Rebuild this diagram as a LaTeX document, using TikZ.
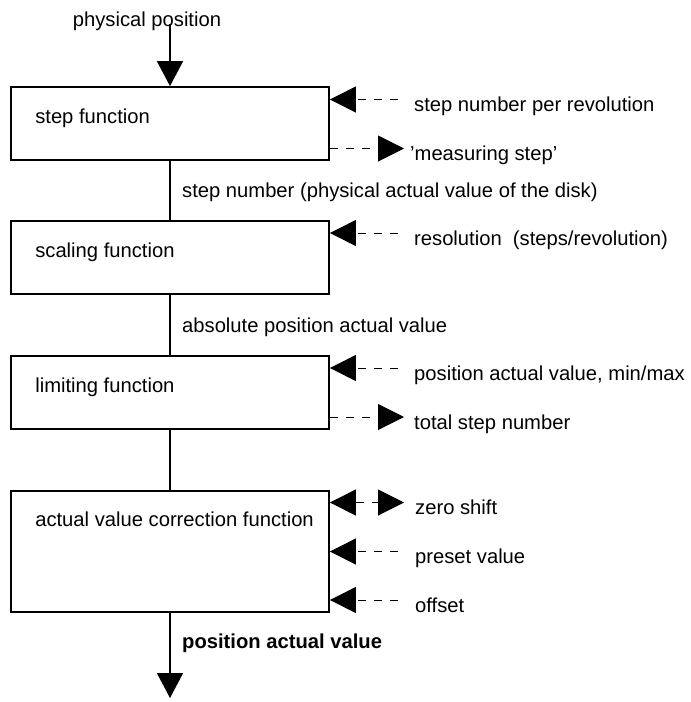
\documentclass[tikz,border=0pt]{standalone}
\usepackage{fontspec}
\setmainfont{Liberation Sans}
\usetikzlibrary{arrows.meta}

\tikzset{
  funcbox/.style={draw, line width=1.8pt, minimum width=318pt, inner sep=0pt},
  boxtext/.style={anchor=base west, inner sep=0pt},
  sigtext/.style={anchor=base west, inner sep=0pt},
  link/.style={line width=1.8pt},
  flow/.style={line width=1.8pt, -{Triangle[length=25pt,width=26pt]}},
  sig/.style={line width=1pt, dash pattern=on 8pt off 8pt, >={Triangle[length=26pt,width=26pt]}}
}

\begin{document}
\begin{tikzpicture}[x=1pt, y=-1pt, font=\fontsize{20.2pt}{24pt}\selectfont]
  \useasboundingbox (0,0) rectangle (691,702);

  % Input
  \node[anchor=base, inner sep=0pt] (phys) at (147,26) {physical position};
  \coordinate (physin) at (170,24);

  % Step function
  \node[funcbox, minimum height=73pt] (stepbox) at (170,123.5) {};
  \node[boxtext] (steptxt) at ([shift={(25pt,-37pt)}]stepbox.north west) {step function};
  \draw[flow] (physin) -- (stepbox.north);
  \coordinate (revin) at (398,99.5);
  \coordinate (measout) at (404,148.5);
  \draw[sig,->] (revin) -- (revin -| stepbox.east);
  \draw[sig,->] (measout -| stepbox.east) -- (measout);
  \node[sigtext] (revtxt) at (414,111.5) {step number per revolution};
  \node[sigtext] (meastxt) at (410,160) {'measuring step'};

  % Scaling function
  \node[funcbox, minimum height=73pt] (scalebox) at (170,257.5) {};
  \node[boxtext] (scaletxt) at ([shift={(25pt,-37pt)}]scalebox.north west) {scaling function};
  \draw[link] (stepbox) -- (scalebox);
  \node[sigtext] (disktxt) at (182,197) {step number (physical actual value of the disk)};
  \coordinate (resin) at (398,233);
  \draw[sig,->] (resin) -- (resin -| scalebox.east);
  \node[sigtext] (restxt) at (414,245) {resolution\ \ (steps/revolution)};

  % Limiting function
  \node[funcbox, minimum height=73pt] (limitbox) at (170,392.5) {};
  \node[boxtext] (limittxt) at ([shift={(25pt,-37pt)}]limitbox.north west) {limiting function};
  \draw[link] (scalebox) -- (limitbox);
  \node[sigtext] (abstxt) at (182,332) {absolute position actual value};
  \coordinate (minmaxin) at (398,368);
  \coordinate (totalout) at (404,417);
  \draw[sig,->] (minmaxin) -- (minmaxin -| limitbox.east);
  \draw[sig,->] (totalout -| limitbox.east) -- (totalout);
  \node[sigtext] (minmaxtxt) at (414,380) {position actual value, min/max};
  \node[sigtext] (totaltxt) at (414,429) {total step number};

  % Correction function
  \node[funcbox, minimum height=121pt] (corrbox) at (170,551.5) {};
  \node[boxtext] (corrtxt) at ([shift={(25pt,-36pt)}]corrbox.north west) {actual value correction function};
  \draw[link] (limitbox) -- (corrbox);
  \coordinate (zeroout) at (404,502.5);
  \coordinate (presetin) at (398,551.5);
  \coordinate (offsetin) at (398,600);
  \draw[sig,<->] (zeroout -| corrbox.east) -- (zeroout);
  \draw[sig,->] (presetin) -- (presetin -| corrbox.east);
  \draw[sig,->] (offsetin) -- (offsetin -| corrbox.east);
  \node[sigtext] (zerotxt) at (415,514) {zero shift};
  \node[sigtext] (presettxt) at (415,563) {preset value};
  \node[sigtext] (offsettxt) at (415,612) {offset};

  % Output
  \coordinate (posout) at (170,698);
  \draw[flow] (corrbox) -- (posout);
  \node[sigtext] (postxt) at (182,648) {\textbf{position actual value}};
\end{tikzpicture}
\end{document}
